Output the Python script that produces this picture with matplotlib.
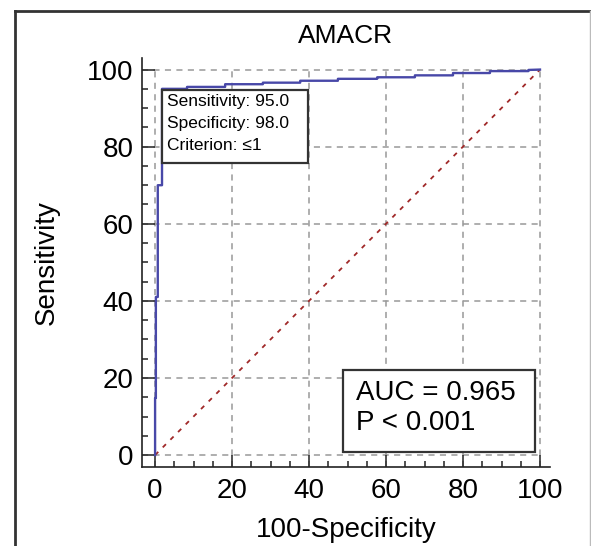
import matplotlib
matplotlib.use("Agg")
import matplotlib.pyplot as plt
from matplotlib.lines import Line2D
from matplotlib.patches import Rectangle
from matplotlib.ticker import MultipleLocator

plt.rcParams['font.family'] = ['Liberation Sans', 'DejaVu Sans']

# ROC curve (100-Specificity, Sensitivity)
fpr = [0, 0, 0.2, 0.2, 0.7, 0.7, 1.8, 1.8, 8.3, 8.3, 18.2, 18.2, 28, 28, 37.7, 37.7,
       47.5, 47.5, 57.7, 57.7, 67.5, 67.5, 77.4, 77.4, 87, 87, 97, 97, 100]
tpr = [0, 14.8, 14.8, 41, 41, 70, 70, 95, 95, 95.5, 95.5, 96.2, 96.2, 96.6, 96.6, 97.1,
       97.1, 97.6, 97.6, 98.0, 98.0, 98.5, 98.5, 99.1, 99.1, 99.6, 99.6, 99.9, 100]

title = "AMACR"
auc_lines = ["AUC = 0.965", "P < 0.001"]
crit_lines = ["Sensitivity: 95.0", "Specificity: 98.0", "Criterion: \u22641"]
ticks = [0, 20, 40, 60, 80, 100]

fig = plt.figure(figsize=(5.91, 5.46), dpi=100)
ax = fig.add_axes([142 / 591, 79 / 546, 408 / 591, 409 / 546])

# grid + diagonal
for t in ticks:
    ax.plot([t, t], [-3.1, 100], color='#999999', ls=(0, (4, 3.5)), lw=1.1, zorder=1)
    ax.plot([-3.4, 100], [t, t], color='#999999', ls=(0, (4, 3.5)), lw=1.1, zorder=1)
ax.plot([0, 100], [0, 100], color='#a02828', ls=(0, (2.5, 3.5)), lw=1.3, zorder=2)

ax.plot(fpr, tpr, color='#4848a8', lw=1.7, zorder=3)

ax.set_xlim(-3.4, 102.6)
ax.set_ylim(-3.1, 103)
for s in ['top', 'right']:
    ax.spines[s].set_visible(False)
for s in ['left', 'bottom']:
    ax.spines[s].set_linewidth(1.2)
    ax.spines[s].set_color('#222222')

ax.set_xticks(ticks)
ax.set_yticks(ticks)
ax.xaxis.set_minor_locator(MultipleLocator(5))
ax.yaxis.set_minor_locator(MultipleLocator(5))
ax.tick_params(which='major', direction='in', length=9, width=1.1, labelsize=20,
               color='#222222')
ax.tick_params(axis='x', which='major', pad=8)
ax.tick_params(axis='y', which='major', pad=6)
ax.tick_params(which='minor', direction='in', length=4, width=1.1, color='#222222')

ax.set_title(title, fontsize=19, pad=11)
ax.set_xlabel("100-Specificity", fontsize=20, labelpad=9)
ax.set_ylabel("Sensitivity", fontsize=20, labelpad=20)

# criterion box
ax.add_patch(Rectangle((1.8, 75.8), 37.9, 19.0, fc='white', ec='#333333', lw=1.6, zorder=5))
for i, line in enumerate(crit_lines):
    ax.text(3.1, 91.7 - 5.7 * i, line, fontsize=12.5, va='center', ha='left', zorder=6)

# AUC box
ax.add_patch(Rectangle((48.8, 0.8), 49.9, 21.3, fc='white', ec='#333333', lw=1.6, zorder=5))
for i, line in enumerate(auc_lines):
    ax.text(52.2, 16.1 - 7.8 * i, line, fontsize=20, va='center', ha='left', zorder=6)

# outer frame of the original figure
fig.add_artist(Line2D([15 / 591, 15 / 591], [0, 1 - 11 / 546], transform=fig.transFigure,
                      color='#333333', lw=2))
fig.add_artist(Line2D([15 / 591, 590 / 591], [1 - 11 / 546, 1 - 11 / 546],
                      transform=fig.transFigure, color='#333333', lw=2))
fig.add_artist(Line2D([590 / 591, 590 / 591], [0, 1 - 11 / 546], transform=fig.transFigure,
                      color='#bbbbbb', lw=1))

fig.savefig("out.png", dpi=100)
